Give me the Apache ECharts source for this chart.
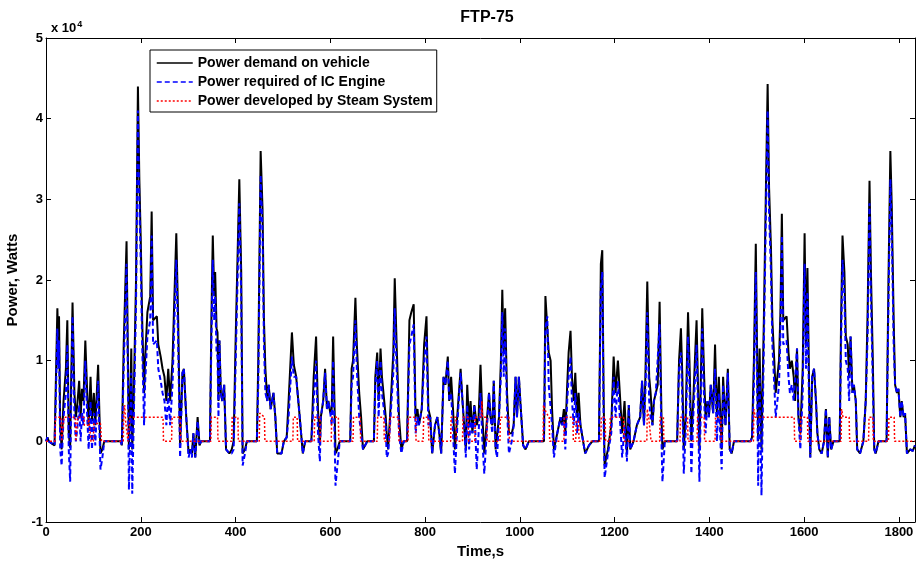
<!DOCTYPE html>
<html>
<head>
<meta charset="utf-8">
<title>FTP-75</title>
<script src="https://cdn.jsdelivr.net/npm/echarts@6/dist/echarts.min.js"></script>
<style>
  html, body { margin: 0; padding: 0; background: #fff; }
  #chart { width: 916px; height: 565px; }
</style>
</head>
<body>
<div id="chart"></div>
<script>
// time [s], power [W]
const demand = [
  [0,0],[3,500],[6,0],[18,-500],[21,8000],[24,16500],[26,12000],[27.5,15500],[30,2000],[33,-1000],[37,5000],[42,9000],[45,15000],[48,1000],[51,-800],[53,7000],[56,17200],[60,6000],[63,3000],[66,4500],[70,7500],[73,3000],[76,6500],[79,5000],[83,12500],[87,6000],[90,2000],[94,8000],[97,2500],[101,6000],[104,2000],[110,9500],[115,-1500],[119,-1000],[123,0],
  [158,0],[160,-500],[164,12000],[170,24800],[173,10000],[175,-1000],[177,3000],[180,11500],[182,-1000],[185,5000],[190,20000],[194,44000],[197,32500],[200,25000],[203,15000],[207,6000],[209,10000],[214,16000],[220,18000],[223,28500],[226,15000],[230,15000],[234,15500],[237,12000],[242,10500],[246,9000],[250,8000],[254,5000],[258,9000],[262,5000],[267,10000],[270,16000],[275,25800],[279,15000],[283,-500],[288,8500],[291,9000],[296,3000],[301,-1500],[305,-1000],[308,-1500],[311,1000],[315,-2000],[320,3000],[324,-500],[327,0],
  [346,0],[349,15000],[352,25500],[355,18000],[357,21000],[360,14000],[362,13500],[364,5000],[366,12500],[369,6000],[372,5000],[376,7000],[380,-1000],[387,-1500],[392,-1000],[396,0],[400,12000],[408,32500],[412,21000],[415,-1500],[420,-1000],[424,0],
  [445,0],[448,10000],[453,36000],[457,28800],[460,15000],[463,9000],[467,5000],[470,7000],[474,4000],[480,6000],[484,3000],[488,-1500],[497,-1500],[502,0],[508,500],[512,5000],[519,13500],[523,9500],[528,8000],[534,4000],[542,-1500],[547,0],
  [560,0],[565,8000],[570,13000],[574,4000],[578,-500],[580,3000],[585,5000],[589,9000],[593,4000],[596,5000],[600,3500],[603,4000],[606,13000],[611,-1500],[615,-1000],[620,0],
  [642,0],[645,9000],[648,10000],[653,17800],[656,12000],[661,6000],[665,3000],[669,-1000],[673,-1000],[678,0],[692,0],[695,8000],[699,11000],[702,5000],[706,11500],[709,8000],[717,3000],[719,1000],[722,-1000],[726,3000],[733,11000],[736,20200],[740,12000],[745,3000],[750,-1000],[755,0],
  [762,0],[767,15000],[771,16000],[776,17000],[780,3000],[784,4000],[787,2000],[793,4000],[798,12000],[803,15500],[807,4000],[811,3000],[815,-1500],[821,2000],[826,3000],[830,1000],[834,-1500],[839,8000],[843,7000],[848,10500],[851,5000],[855,8000],[859,4000],[863,-1000],[869,4000],[875,9000],[879,5000],[883,1500],[886,-1000],[889,7000],[893,2000],[896,5000],[900,1000],[904,4500],[909,2000],[913,3000],[917,9500],[921,3000],[925,-1500],[931,3000],[935,6000],[938,3000],[942,2000],[945,7500],[949,-1000],[952,-1000],[956,3000],[960,10000],[963,18800],[966,11000],[969,16500],[973,6000],[977,1000],[983,1000],[987,2000],[991,8000],[994,3000],[998,8000],[1001,5000],[1007,-500],[1012,-1000],[1016,-1000],[1019,0],
  [1051,0],[1054,18000],[1058,18100],[1061,11000],[1065,10000],[1068,4000],[1072,-1000],[1079,1000],[1086,3000],[1089,2000],[1093,4000],[1096,1000],[1100,7000],[1103,11000],[1107,13700],[1110,8000],[1114,5000],[1117,8500],[1121,3000],[1124,6000],[1128,2000],[1135,-500],[1138,-1500],[1146,-500],[1153,0],
  [1167,0],[1171,22000],[1174,23700],[1177,5000],[1179,-3000],[1186,-1000],[1193,2000],[1198,10500],[1202,6000],[1207,10000],[1211,6000],[1216,1000],[1221,5000],[1223,5000],[1226,-1500],[1230,4500],[1233,-1000],[1240,0],[1247,2000],[1254,3000],[1258,7500],[1262,2000],[1265,8000],[1269,19800],[1273,8000],[1276,6000],[1280,2000],[1283,5000],[1287,6000],[1291,7000],[1295,17300],[1299,3000],[1301,-1000],[1306,0],
  [1332,0],[1336,10000],[1340,14000],[1343,8000],[1346,-1000],[1350,3000],[1355,16000],[1358,10000],[1362,0],[1366,5000],[1373,15000],[1376,7000],[1379,-1000],[1385,16500],[1389,8000],[1392,3000],[1396,5000],[1399,3000],[1403,7000],[1408,3500],[1412,12000],[1416,3000],[1420,8000],[1424,2000],[1426,-1000],[1429,8000],[1434,2000],[1439,9000],[1443,-1000],[1447,-1500],[1452,0],
  [1487,0],[1490,500],[1494,10000],[1498,24500],[1501,10000],[1503,0],[1506,11500],[1510,-1000],[1515,15000],[1519,30000],[1523,44300],[1526,31500],[1530,24000],[1533,15000],[1537,10000],[1540,6000],[1544,6000],[1547,10000],[1550,16000],[1553,28200],[1556,15000],[1560,15000],[1563,15500],[1567,11000],[1570,9000],[1574,10000],[1578,8000],[1581,5000],[1585,11500],[1588,3000],[1592,1000],[1597,9000],[1601,25800],[1604,12000],[1607,21500],[1611,5000],[1613,-2000],[1617,8000],[1621,9000],[1625,5000],[1628,1000],[1632,-1000],[1637,-1500],[1642,0],[1646,4000],[1650,-2000],[1653,3000],[1657,-1000],[1662,0],
  [1675,0],[1678,15000],[1681,25500],[1685,21000],[1688,13000],[1692,12000],[1695,8000],[1698,13000],[1702,6000],[1705,7000],[1709,5000],[1712,-1000],[1718,-1500],[1725,0],[1730,5000],[1734,16000],[1738,32300],[1741,21000],[1745,10000],[1748,-1000],[1751,-1500],[1757,0],
  [1774,0],[1778,20000],[1782,36000],[1785,29000],[1789,15000],[1792,7000],[1796,6000],[1799,6500],[1803,3000],[1806,5000],[1810,3000],[1813,3500],[1817,-1500],[1820,-1500],[1824,-1000],[1829,-1200],[1834,-500]
];

const engine = [
  [0,0],[3,500],[6,0],[18,-500],[21,6000],[24,14000],[26,9000],[27.5,12500],[30,-1000],[33,-3000],[37,3000],[42,6000],[45,12000],[48,-1000],[51,-5000],[53,4000],[56,15500],[60,3000],[63,0],[66,1500],[70,4500],[73,0],[76,3500],[79,2000],[83,10000],[87,3000],[90,-1000],[94,5000],[97,-1000],[101,3500],[104,-500],[110,7500],[115,-3500],[119,-2000],[123,0],
  [158,0],[160,-500],[164,9000],[170,22000],[173,7000],[175,-6000],[177,-1000],[180,8500],[182,-6500],[185,2000],[190,17000],[194,41000],[197,29500],[200,22000],[203,12000],[207,2000],[209,7000],[214,13000],[220,15000],[223,25500],[226,12000],[230,12000],[234,12500],[237,9000],[242,7500],[246,6000],[250,5000],[254,2000],[258,6000],[262,2000],[267,7000],[270,13000],[275,22500],[279,12000],[283,-2000],[288,8500],[291,9000],[296,3000],[301,-2000],[305,-1000],[308,-2000],[311,1000],[315,-2000],[320,2500],[324,-500],[327,0],
  [346,0],[349,12000],[352,22500],[355,15000],[357,18000],[360,11000],[362,10500],[364,3000],[366,12500],[369,6000],[372,5000],[376,7000],[380,-1000],[387,-1500],[392,-1500],[396,-1000],[400,9000],[408,29500],[412,18000],[415,-3000],[420,-1500],[424,0],
  [445,0],[448,7000],[453,33000],[457,26000],[460,12000],[463,6000],[467,5000],[470,7000],[474,4000],[480,6000],[484,3000],[488,-1500],[497,-1500],[502,0],[508,500],[512,3000],[519,10500],[523,8000],[528,8000],[534,4000],[542,-1500],[547,0],
  [560,0],[565,5000],[570,10000],[574,1000],[578,-2500],[580,3000],[585,5000],[589,8500],[593,4000],[596,5000],[600,3500],[603,2000],[606,10000],[611,-5500],[615,-3000],[620,0],
  [642,0],[645,7000],[648,8000],[653,15000],[656,9000],[661,3000],[665,1000],[669,-1000],[673,-1000],[678,0],[692,0],[695,7000],[699,10000],[702,3000],[706,10000],[709,6000],[717,2000],[719,-2000],[722,-1500],[726,2000],[733,8500],[736,16500],[740,9000],[745,1000],[750,-1500],[755,0],
  [762,0],[767,12000],[771,13000],[776,14500],[780,1000],[784,3000],[787,2000],[793,4000],[798,9500],[803,13000],[807,2000],[811,3000],[815,-1500],[821,2000],[826,3000],[830,1000],[834,-1500],[839,8000],[843,7000],[848,10000],[851,5000],[855,6000],[859,1000],[863,-4000],[869,3000],[875,8500],[879,5000],[883,1500],[886,-2000],[889,4500],[893,-1000],[896,3000],[900,1000],[904,4500],[909,-3500],[913,1000],[917,6000],[921,0],[925,-4000],[931,2000],[935,6000],[938,3000],[942,1000],[945,7500],[949,-1000],[952,-2000],[956,3000],[960,8000],[963,16000],[966,8000],[969,14000],[973,4000],[977,-1500],[983,0],[987,2000],[991,8000],[994,3000],[998,8000],[1001,5000],[1007,-500],[1012,-1000],[1016,-1000],[1019,0],
  [1051,0],[1054,14000],[1058,15500],[1061,7000],[1065,7000],[1068,2000],[1072,-2000],[1079,1000],[1086,3000],[1089,2000],[1093,3000],[1096,-1000],[1100,5000],[1103,8000],[1107,10500],[1110,5000],[1114,2000],[1117,6000],[1121,1000],[1124,3500],[1128,2000],[1135,-500],[1138,-1500],[1146,-500],[1153,0],
  [1167,0],[1171,19000],[1174,21000],[1177,2000],[1179,-4500],[1186,-1500],[1193,1000],[1198,8000],[1202,3000],[1207,7500],[1211,3000],[1216,-2000],[1221,2000],[1223,2000],[1226,-2500],[1230,4500],[1233,-1000],[1240,0],[1247,2000],[1254,3000],[1258,7500],[1262,2000],[1265,6000],[1269,16000],[1273,5000],[1276,3000],[1280,2000],[1283,5000],[1287,6000],[1291,6000],[1295,14500],[1299,0],[1301,-5000],[1306,0],
  [1332,0],[1336,9000],[1340,11000],[1343,5000],[1346,-4000],[1350,1000],[1355,13000],[1358,7000],[1362,-4000],[1366,3000],[1373,12000],[1376,4000],[1379,-5000],[1385,14000],[1389,5000],[1392,1000],[1396,5000],[1399,3000],[1403,7000],[1408,3500],[1412,9000],[1416,0],[1420,6000],[1424,-1000],[1426,-3500],[1429,7000],[1434,2000],[1439,8500],[1443,-1000],[1447,-1500],[1452,0],
  [1487,0],[1490,500],[1494,7000],[1498,21000],[1501,6000],[1503,-5500],[1506,8500],[1510,-6700],[1515,12000],[1519,27000],[1523,41000],[1526,28500],[1530,21000],[1533,12000],[1537,7000],[1540,3000],[1544,3000],[1547,7000],[1550,13000],[1553,25500],[1556,12000],[1560,12000],[1563,12500],[1567,8000],[1570,6000],[1574,7000],[1578,5000],[1581,5000],[1585,11500],[1588,3000],[1592,-1000],[1597,6000],[1601,22000],[1604,9000],[1607,18500],[1611,2000],[1613,-2000],[1617,8000],[1621,9000],[1625,5000],[1628,1000],[1632,-1000],[1637,-1500],[1642,0],[1646,4000],[1650,-2000],[1653,3000],[1657,-1000],[1662,0],
  [1675,0],[1678,12000],[1681,22500],[1685,18000],[1688,10000],[1692,9000],[1695,5000],[1698,13000],[1702,6000],[1705,7000],[1709,5000],[1712,-1000],[1718,-1500],[1725,0],[1730,5000],[1734,13000],[1738,29500],[1741,18000],[1745,7000],[1748,-1000],[1751,-1500],[1757,0],
  [1774,0],[1778,17000],[1782,32500],[1785,26000],[1789,12000],[1792,7000],[1796,6000],[1799,6500],[1803,3000],[1806,5000],[1810,3000],[1813,3500],[1817,-1500],[1820,-1500],[1824,-1000],[1829,-1200],[1834,-500]
];

const steam = [
  [0,0],[19,0],[20,3000],[32,3000],[33,0],[37,0],[38,3000],[62,3000],[63,0],[66,0],[67,3000],[80,3000],[81,2000],[89,2000],[90,3000],[94,3000],[95,0],[100,0],[101,2200],[115,2200],[117,0],
  [163,0],[164,3000],[166,4500],[168,2500],[172,2500],[173,0],[176,0],[177,3000],[247,3000],[248,0],[265,0],[266,3000],[283,3000],[284,0],
  [348,0],[349,3000],[362,3000],[363,0],[392,0],[393,3000],[405,3000],[406,0],[450,0],[451,3500],[461,3000],[462,0],[521,0],[522,3000],[530,3000],[531,0],[566,0],[567,3000],[578,3000],[579,0],
  [602,0],[603,3000],[617,3000],[618,0],[648,0],[649,3000],[663,3000],[664,0],[699,0],[700,3000],[713,3000],[714,0],[725,0],[726,3000],[744,3000],[745,0],[764,0],[765,3000],[780,3000],[781,0],[796,0],[797,3000],[807,3000],[808,0],
  [854,0],[855,3000],[865,3000],[866,0],[879,0],[880,3000],[891,3000],[892,0],[905,0],[906,3000],[919,3000],[920,5000],[921,3000],[930,3000],[931,0],[958,0],[959,3000],[977,3000],[978,0],
  [1049,0],[1050,4500],[1056,3500],[1062,3000],[1063,0],[1093,0],[1094,3000],[1112,3000],[1113,0],[1118,0],[1119,2500],[1124,2500],[1125,0],[1171,0],[1172,3000],[1180,3000],[1181,0],[1190,0],[1191,3000],[1219,3000],[1220,0],
  [1268,0],[1269,4000],[1272,3000],[1276,3000],[1277,0],[1295,0],[1296,3000],[1303,3000],[1304,0],[1338,0],[1339,3000],[1354,3000],[1355,0],[1374,0],[1375,3000],[1389,3000],[1390,0],[1412,0],[1413,3000],[1424,3000],[1425,0],
  [1493,0],[1494,4000],[1497,3000],[1579,3000],[1580,0],[1592,0],[1593,3000],[1607,3000],[1608,0],[1678,0],[1679,4000],[1682,3000],[1695,3000],[1696,0],[1736,0],[1737,3000],[1745,3000],[1746,0],[1778,0],[1779,3000],[1790,3000],[1791,0],[1834,0]
];

const seriesNames = ['Power demand on vehicle', 'Power required of IC Engine', 'Power developed by Steam System'];
const xTicks = [0, 200, 400, 600, 800, 1000, 1200, 1400, 1600, 1800];
const yTicks = [-1, 0, 1, 2, 3, 4, 5];

const font = 'Liberation Sans, Arial, sans-serif';
const chart = echarts.init(document.getElementById('chart'));

const axisCommon = {
  axisLine: { show: true, onZero: false, lineStyle: { color: '#000', width: 1 } },
  axisTick: { show: true, inside: true, length: 5, lineStyle: { color: '#000' } },
  splitLine: { show: false }
};

chart.setOption({
  animation: false,
  backgroundColor: '#fff',
  title: {
    text: 'FTP-75',
    left: 482, textAlign: 'center', top: 5,
    textStyle: { fontFamily: font, fontSize: 16, fontWeight: 'bold', color: '#000' }
  },
  grid: { left: 46, right: 1, top: 38, bottom: 43, outerBoundsMode: 'none' },
  legend: {
    data: seriesNames,
    orient: 'vertical',
    left: 150, top: 50,
    padding: [6, 4, 4, 6],
    itemGap: 5,
    itemWidth: 36, itemHeight: 12,
    borderColor: '#000', borderWidth: 1,
    backgroundColor: '#fff',
    itemStyle: { opacity: 0 },
    lineStyle: { width: 1.5 },
    textStyle: { fontFamily: font, fontSize: 14, fontWeight: 'bold', color: '#000' }
  },
  graphic: [{
    type: 'text', left: 51, top: 20,
    style: {
      text: 'x 10{sup|4}',
      font: 'bold 13px ' + font,
      fill: '#000',
      rich: { sup: { fontSize: 9, fontWeight: 'bold', fontFamily: font, verticalAlign: 'top', padding: [0, 0, 8, 1] } }
    }
  }],
  xAxis: [{
    ...axisCommon,
    type: 'value', min: 0, max: 1834, interval: 200,
    name: 'Time,s', nameLocation: 'middle', nameGap: 20,
    nameTextStyle: { fontFamily: font, fontSize: 15, fontWeight: 'bold', color: '#000' },
    axisLabel: {
      fontFamily: font, fontSize: 13, fontWeight: 'bold', color: '#000', margin: 4,
      showMaxLabel: false,
      formatter: v => xTicks.includes(v) ? String(v) : ''
    }
  }, {
    ...axisCommon,
    type: 'value', position: 'top', min: 0, max: 1834, interval: 200,
    axisLabel: { show: false }
  }],
  yAxis: [{
    ...axisCommon,
    type: 'value', min: -10000, max: 50000, interval: 10000,
    name: 'Power, Watts', nameLocation: 'middle', nameGap: 26,
    nameTextStyle: { fontFamily: font, fontSize: 15, fontWeight: 'bold', color: '#000' },
    axisLabel: {
      fontFamily: font, fontSize: 13, fontWeight: 'bold', color: '#000', margin: 3,
      formatter: v => String(yTicks[Math.round(v / 10000) + 1])
    }
  }, {
    ...axisCommon,
    type: 'value', position: 'right', min: -10000, max: 50000, interval: 10000,
    axisLabel: { show: false }
  }],
  series: [{
    name: seriesNames[0], type: 'line', data: demand,
    symbol: 'none', z: 2,
    lineStyle: { color: '#000', width: 2, type: 'solid' },
    itemStyle: { color: '#000' }
  }, {
    name: seriesNames[1], type: 'line', data: engine,
    symbol: 'none', z: 3,
    lineStyle: { color: '#0000ff', width: 2, type: [5, 3] },
    itemStyle: { color: '#0000ff' }
  }, {
    name: seriesNames[2], type: 'line', data: steam,
    symbol: 'none', z: 4,
    lineStyle: { color: '#ff0000', width: 1.5, type: [2, 2] },
    itemStyle: { color: '#ff0000' }
  }]
});
</script>
</body>
</html>
